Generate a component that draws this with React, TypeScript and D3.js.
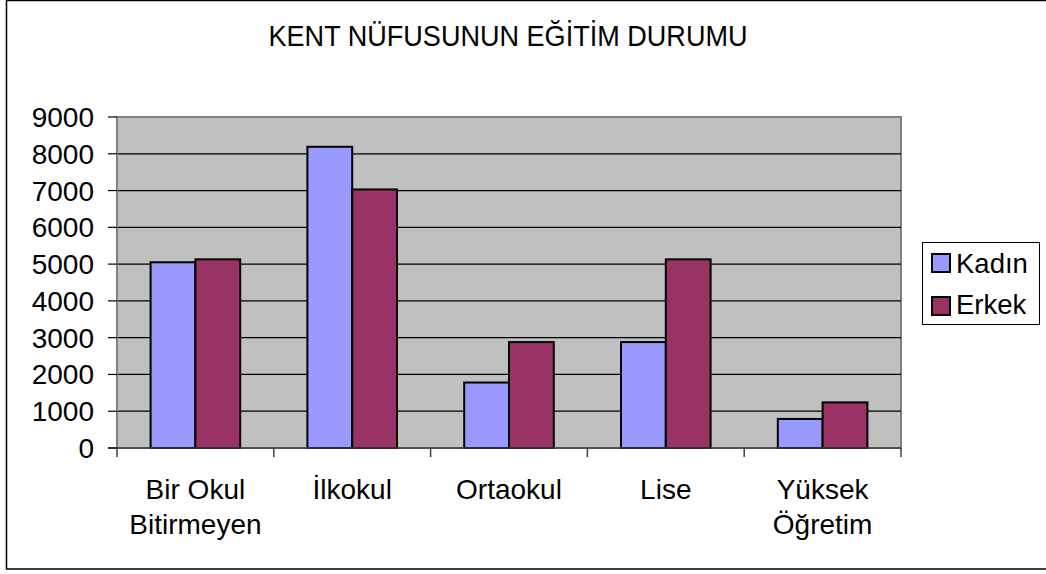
import React from "react";
import * as d3 from "d3";

const categories: string[][] = [
  ["Bir Okul", "Bitirmeyen"],
  ["İlkokul"],
  ["Ortaokul"],
  ["Lise"],
  ["Yüksek", "Öğretim"],
];
const seriesNames = ["Kadın", "Erkek"];
const kadin = [5050, 8190, 1780, 2880, 790];
const erkek = [5130, 7030, 2880, 5130, 1240];
const yTicks = [0, 1000, 2000, 3000, 4000, 5000, 6000, 7000, 8000, 9000];
const title = "KENT NÜFUSUNUN EĞİTİM DURUMU";

const colors = ["#9999FF", "#993366"];
const W = 1046;
const H = 574;
const plot = { left: 117, right: 901, top: 117, bottom: 448 };
const FONT = "'Liberation Sans', Arial, sans-serif";

export default function App() {
  const x0 = d3
    .scaleBand<number>()
    .domain(d3.range(categories.length))
    .range([plot.left, plot.right])
    .paddingInner(0)
    .paddingOuter(0);
  const groupW = x0.bandwidth() / 1.75; // two bars + 150% gap
  const x1 = d3
    .scaleBand<number>()
    .domain([0, 1])
    .range([0, groupW]);
  const y = d3.scaleLinear().domain([0, 9000]).range([plot.bottom, plot.top]);
  const series = [kadin, erkek];
  const boundaries = d3.range(categories.length + 1).map((i) =>
    i < categories.length ? (x0(i) as number) : plot.right
  );

  return (
    <svg
      width={W}
      height={H}
      style={{ position: "absolute", left: 0, top: 0, background: "#fff" }}
      fontFamily={FONT}
    >
      <rect x={6.5} y={0.5} width={1060} height={568.5} fill="#fff" stroke="#000" strokeWidth={1.5} />
      <text
        x={508}
        y={45.5}
        textAnchor="middle"
        fontSize={29}
        fill="#000"
        textLength={479}
        lengthAdjust="spacingAndGlyphs"
      >
        {title}
      </text>
      <rect
        x={plot.left}
        y={plot.top}
        width={plot.right - plot.left}
        height={plot.bottom - plot.top}
        fill="#C0C0C0"
        stroke="#808080"
        strokeWidth={2}
      />
      {yTicks.slice(1, -1).map((t) => (
        <line key={"g" + t} x1={plot.left} x2={plot.right} y1={y(t)} y2={y(t)} stroke="#000" strokeWidth={1.2} />
      ))}
      {series.map((vals, si) =>
        vals.map((v, ci) => (
          <rect
            key={si + "-" + ci}
            x={(x0(ci) as number) + (x0.bandwidth() - groupW) / 2 + (x1(si) as number)}
            y={y(v)}
            width={x1.bandwidth()}
            height={y(0) - y(v)}
            fill={colors[si]}
            stroke="#000"
            strokeWidth={2}
          />
        ))
      )}
      <line x1={plot.left} x2={plot.left} y1={plot.top} y2={plot.bottom} stroke="#808080" strokeWidth={2} />
      <line x1={plot.left - 9} x2={plot.right} y1={plot.bottom} y2={plot.bottom} stroke="#404040" strokeWidth={1.5} />
      {yTicks.map((t) => (
        <g key={"t" + t}>
          <line x1={plot.left - 9} x2={plot.left} y1={y(t)} y2={y(t)} stroke="#000" strokeWidth={1.2} />
          <text x={94} y={y(t) + 10} textAnchor="end" fontSize={28} fill="#000">
            {t}
          </text>
        </g>
      ))}
      {boundaries.map((bx, i) => (
        <line key={"b" + i} x1={bx} x2={bx} y1={plot.bottom} y2={plot.bottom + 9} stroke="#404040" strokeWidth={1.5} />
      ))}
      {categories.map((lines, ci) => (
        <text
          key={"c" + ci}
          x={(x0(ci) as number) + x0.bandwidth() / 2}
          y={499}
          textAnchor="middle"
          fontSize={28}
          fill="#000"
        >
          {lines.map((l, li) => (
            <tspan key={li} x={(x0(ci) as number) + x0.bandwidth() / 2} dy={li === 0 ? 0 : 35}>
              {l}
            </tspan>
          ))}
        </text>
      ))}
      <rect x={922.5} y={242.5} width={117} height={82} fill="#fff" stroke="#000" strokeWidth={1} />
      {seriesNames.map((n, i) => (
        <g key={n}>
          <rect x={932} y={254 + i * 43} width={18} height={18} fill={colors[i]} stroke="#000" strokeWidth={2} />
          <text x={956} y={273 + i * 41} fontSize={27.5} fill="#000">
            {n}
          </text>
        </g>
      ))}
    </svg>
  );
}
